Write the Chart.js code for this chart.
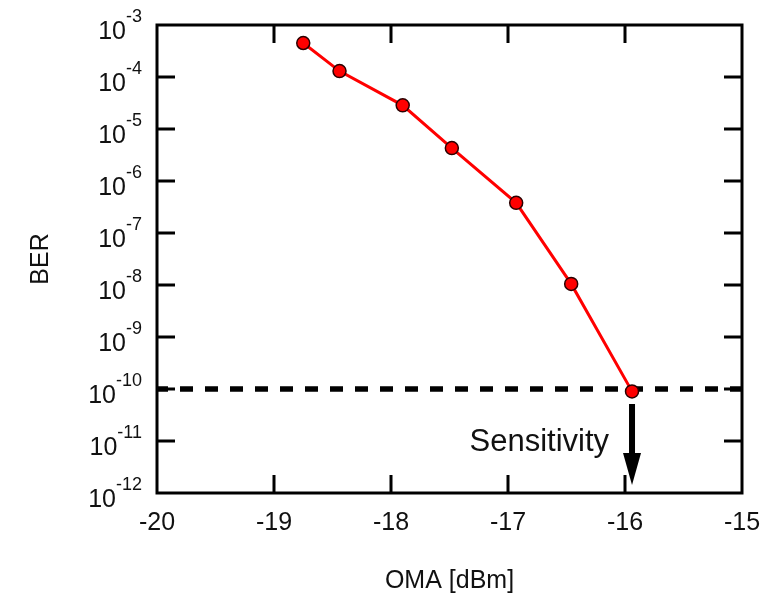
<!DOCTYPE html>
<html>
<head>
<meta charset="utf-8">
<script src="https://cdn.jsdelivr.net/npm/chart.js@4.4.1/dist/chart.umd.min.js"></script>
<style>
  html, body { margin: 0; padding: 0; background: #fff; }
  #wrap { width: 772px; height: 594px; position: relative; }
</style>
</head>
<body>
<div id="wrap"><canvas id="c"></canvas></div>
<script>
// OMA [dBm] vs. BER
const omaValues = [-18.75, -18.44, -17.90, -17.48, -16.93, -16.46, -15.94];
const berValues = [4.5e-4, 1.3e-4, 2.85e-5, 4.3e-6, 3.8e-7, 1.05e-8, 9e-11];

// Schwelle (gestrichelte Linie) und Achsen-Ticks
const thresholdX = [-20, -15];
const thresholdBer = [1e-10, 1e-10];
const xTicks = [-20, -19, -18, -17, -16, -15];
const yExponents = [-3, -4, -5, -6, -7, -8, -9, -10, -11, -12];
const sensitivityX = -15.94;

const FONT = '"Liberation Sans", Arial, sans-serif';
const INK = '#111';

// Rahmen, nach innen zeigende Ticks und alle Beschriftungen
const frameAndLabels = {
  id: 'frameAndLabels',
  beforeDatasetsDraw(chart) {
    const { ctx, chartArea: a, scales: { x, y } } = chart;
    ctx.save();
    ctx.strokeStyle = '#000';
    ctx.lineWidth = 3;
    ctx.strokeRect(a.left, a.top, a.right - a.left, a.bottom - a.top);
    const tl = 18;
    ctx.beginPath();
    xTicks.slice(1, -1).forEach(v => {
      const px = x.getPixelForValue(v);
      ctx.moveTo(px, a.bottom); ctx.lineTo(px, a.bottom - tl);
      ctx.moveTo(px, a.top); ctx.lineTo(px, a.top + tl);
    });
    yExponents.slice(1, -1).forEach(e => {
      const py = y.getPixelForValue(Math.pow(10, e));
      ctx.moveTo(a.left, py); ctx.lineTo(a.left + tl, py);
      ctx.moveTo(a.right, py); ctx.lineTo(a.right - tl, py);
    });
    ctx.stroke();
    ctx.restore();
  },
  afterDatasetsDraw(chart) {
    const { ctx, chartArea: a, scales: { x, y } } = chart;
    ctx.save();
    ctx.fillStyle = INK;

    // x tick labels
    ctx.font = '25px ' + FONT;
    ctx.textAlign = 'center';
    ctx.textBaseline = 'alphabetic';
    xTicks.forEach(v => ctx.fillText(String(v), x.getPixelForValue(v), a.bottom + 37));

    // y tick labels 10^n
    const rightEdge = a.left - 15;
    yExponents.forEach(e => {
      const py = y.getPixelForValue(Math.pow(10, e));
      ctx.textAlign = 'right';
      ctx.font = '18px ' + FONT;
      const sup = String(e);
      const w = ctx.measureText(sup).width;
      ctx.fillText(sup, rightEdge, py - 3);
      ctx.font = '25px ' + FONT;
      ctx.fillText('10', rightEdge - w, py + 14);
    });

    // axis titles
    ctx.font = '25px ' + FONT;
    ctx.textAlign = 'center';
    ctx.fillText('OMA [dBm]', (a.left + a.right) / 2, 588);
    ctx.save();
    ctx.translate(41, (a.top + a.bottom) / 2);
    ctx.rotate(-Math.PI / 2);
    ctx.textBaseline = 'middle';
    ctx.fillText('BER', 0, 0);
    ctx.restore();

    // Sensitivity-Pfeil
    const ax = x.getPixelForValue(sensitivityX);
    const top = y.getPixelForValue(1e-10) + 15;
    const tip = a.bottom - 8;
    const headH = 32;
    ctx.fillStyle = '#000';
    ctx.fillRect(ax - 3, top, 6, tip - headH - top + 2);
    ctx.beginPath();
    ctx.moveTo(ax - 9, tip - headH);
    ctx.lineTo(ax + 9, tip - headH);
    ctx.lineTo(ax, tip);
    ctx.closePath();
    ctx.fill();

    ctx.fillStyle = INK;
    ctx.font = '31px ' + FONT;
    ctx.textAlign = 'right';
    ctx.fillText('Sensitivity', ax - 23, y.getPixelForValue(1e-10) + 62);
    ctx.restore();
  }
};

new Chart(document.getElementById('c'), {
  type: 'scatter',
  data: {
    datasets: [
      {
        data: omaValues.map((v, i) => ({ x: v, y: berValues[i] })),
        showLine: true,
        borderColor: '#ff0000',
        borderWidth: 3,
        pointRadius: 6.5,
        pointBackgroundColor: '#ff0000',
        pointBorderColor: '#2a0000',
        pointBorderWidth: 1.5,
        order: 0,
      },
      {
        data: thresholdX.map((v, i) => ({ x: v, y: thresholdBer[i] })),
        showLine: true,
        borderColor: '#000',
        borderWidth: 5.5,
        borderDash: [13, 12],
        borderDashOffset: 2,
        borderCapStyle: 'butt',
        pointRadius: 0,
        order: 1,
      }
    ]
  },
  options: {
    responsive: true,
    maintainAspectRatio: false,
    animation: false,
    layout: { padding: { left: 157, top: 25, right: 30, bottom: 101 } },
    scales: {
      x: { type: 'linear', min: -20, max: -15, display: false },
      y: { type: 'logarithmic', min: 1e-12, max: 1e-3, display: false }
    },
    plugins: { legend: { display: false }, tooltip: { enabled: false } }
  },
  plugins: [frameAndLabels]
});
</script>
</body>
</html>
